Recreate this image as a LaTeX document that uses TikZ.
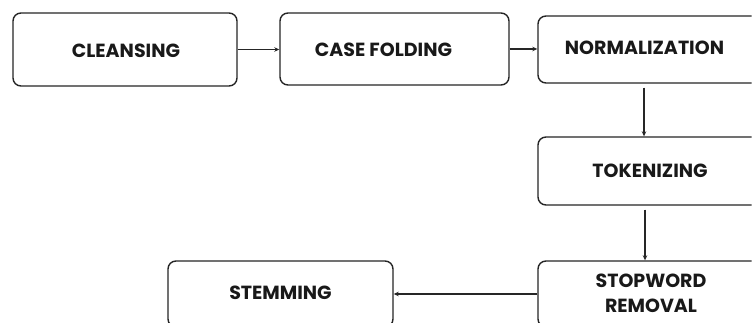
\documentclass[tikz,border=0pt]{standalone}
\usepackage{fontspec}
\newfontfamily\popfont{Poppins}[UprightFont=* Bold]
\usetikzlibrary{arrows.meta}
\tikzset{
  box/.style={draw=black!85, line width=1.4pt, rounded corners=8pt, inner sep=0pt},
  lbl/.style={font=\popfont\fontsize{19}{25}\selectfont, text=black!90, align=center, inner sep=0pt},
  conn/.style={draw=black!85, line width=1.2pt, -{Stealth[length=5pt,width=4.5pt]}}
}
\begin{document}
\begin{tikzpicture}[x=1pt,y=-1pt]
\useasboundingbox (0,0) rectangle (753,323);
\clip (0,0) rectangle (751.5,322.5);
\fill[white] (0,0) rectangle (753,323);
% boxes
\node[box, minimum width=224pt, minimum height=73pt] (clean) at (125,49.5) {};
\node[box, minimum width=229pt, minimum height=72pt] (case) at (394.5,49) {};
\node[box, minimum width=224pt, minimum height=67pt] (norm) at (650,49.5) {};
\node[box, minimum width=224pt, minimum height=68pt] (tok) at (650,171) {};
\node[box, minimum width=224pt, minimum height=66pt] (stop) at (650,294) {};
\node[box, minimum width=225pt, minimum height=66pt] (stem) at (280.5,294) {};
% labels
\node[lbl] (tclean) at (126,50.5) {CLEANSING};
\node[lbl] (tcase) at (383.5,50) {CASE FOLDING};
\node[lbl] (tnorm) at (644.5,48) {NORMALIZATION};
\node[lbl] (ttok) at (650,171) {TOKENIZING};
\node[lbl] (tstop) at (651,293.5) {STOPWORD\\REMOVAL};
\node[lbl] (tstem) at (280.5,293) {STEMMING};
% connectors
\draw[conn] (clean.east) -- (clean.east -| case.west);
\draw[conn] (case.east) -- (case.east -| norm.west);
\draw[conn, shorten <=4pt] ([xshift=-6pt]norm.south) -- ([xshift=-6pt]norm.south |- tok.north);
\draw[conn, shorten <=4pt] ([xshift=-5pt]tok.south) -- ([xshift=-5pt]tok.south |- stop.north);
\draw[conn] (stop.west) -- (stop.west -| stem.east);
\end{tikzpicture}
\end{document}
